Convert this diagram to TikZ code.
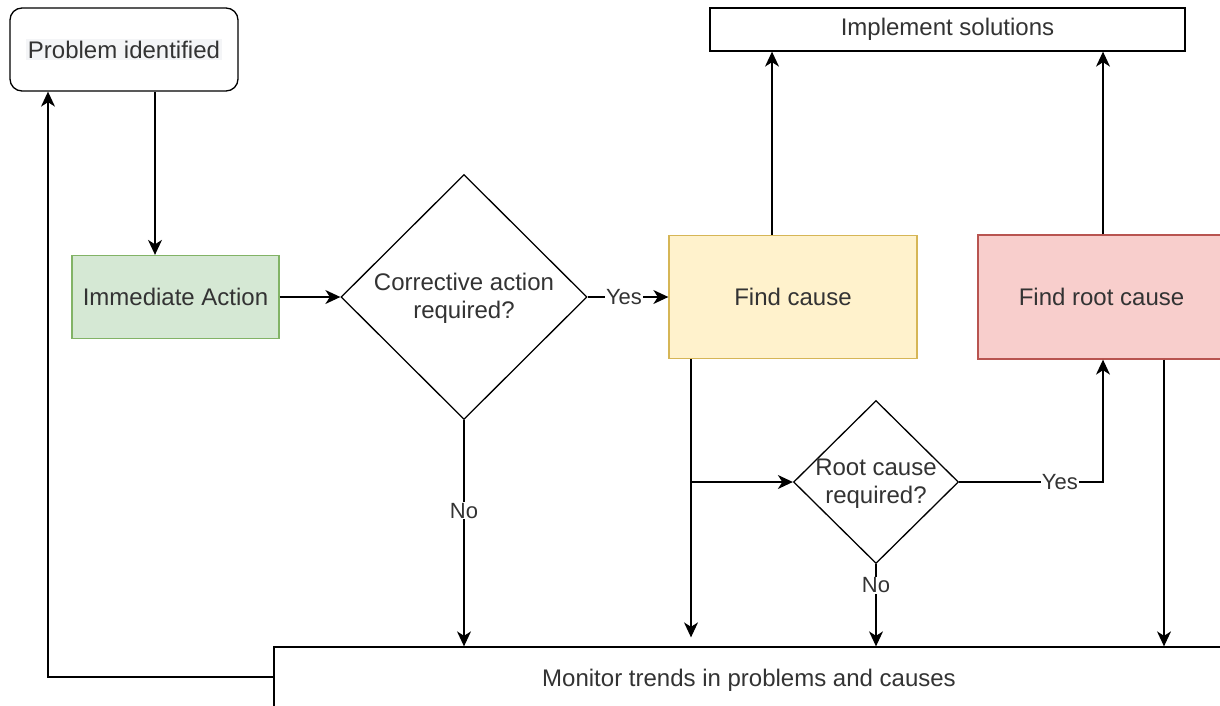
\documentclass[tikz,border=0pt]{standalone}
\usepackage{fontspec}
\setmainfont{Liberation Sans}
\usetikzlibrary{shapes.geometric,arrows.meta}
\definecolor{txt}{HTML}{333333}
\definecolor{hl}{HTML}{F4F5F7}
\definecolor{greenfill}{HTML}{D5E8D4}
\definecolor{greenline}{HTML}{82B366}
\definecolor{yellowfill}{HTML}{FFF2CC}
\definecolor{yellowline}{HTML}{D6B656}
\definecolor{redfill}{HTML}{F8CECC}
\definecolor{redline}{HTML}{B85450}
\begin{document}
\begin{tikzpicture}[x=1pt,y=-1pt,
  box/.style={draw=black, line width=1.3pt, rectangle, text=txt,
    font=\fontsize{24}{28.8}\selectfont, align=center, inner sep=0pt},
  dia/.style={draw=black, line width=1.3pt, diamond, inner sep=0pt},
  diatext/.style={text=txt, font=\fontsize{24}{28.2}\selectfont, align=center, inner sep=0pt},
  arr/.style={line width=1.3pt, -{Stealth[length=15pt,width=14pt,inset=4.5pt]}},
  lbl/.style={fill=white, text=txt, font=\fontsize{22}{26}\selectfont, inner sep=1pt}]

\useasboundingbox (0,0) rectangle (1220,705);
\fill[white] (0,0) rectangle (1220,705);
\clip (0,0) rectangle (1220,705);

% process steps
\node[box, rounded corners=12pt, minimum width=228pt, minimum height=83pt] (prob) at (124,49.5)
  {\setlength\fboxsep{2pt}\colorbox{hl}{Problem identified}};
\node[box, fill=greenfill, draw=greenline, minimum width=207pt, minimum height=83pt] (imm) at (175.5,297)
  {Immediate Action};
\node[dia, minimum width=246pt, minimum height=245pt] (d1) at (464,297) {};
\node[diatext] (d1t) at (464,298) {Corrective action\\required?};
\node[box, fill=yellowfill, draw=yellowline, minimum width=248pt, minimum height=123pt] (fc) at (793,297)
  {Find cause};
\node[box, fill=redfill, draw=redline, minimum width=247pt, minimum height=124pt] (frc) at (1101.5,297)
  {Find root cause};
\node[box, minimum width=475pt, minimum height=43pt] (impl) at (947.5,29.5)
  {Implement solutions};
\node[dia, minimum width=165pt, minimum height=163pt] (d2) at (876,482) {};
\node[diatext] (d2t) at (876,484) {Root cause\\required?};
\node[box, minimum width=950pt, minimum height=66pt] (mon) at (749,680)
  {Monitor trends in problems and causes};

% connectors
\draw[arr] ([xshift=31pt]prob.south) -- ([xshift=31pt]prob.south |- imm.north);
\draw[arr] (imm.east) -- (imm.east -| d1.west);
\draw[arr] (d1.east) -- node[lbl, pos=0.45] {Yes} (d1.east -| fc.west);
\draw[arr] (d1.south) -- node[lbl, pos=0.40] {No} (d1.south |- mon.north);
\draw[arr] ([xshift=-21pt]fc.north) -- ([xshift=-21pt]fc.north |- impl.south);
\draw[arr] ([xshift=1.5pt]frc.north) -- ([xshift=1.5pt]frc.north |- impl.south);
\coordinate (fcdown) at ([xshift=-102pt]fc.south);
\coordinate (split) at (fcdown |- d2.west);
\draw[arr] (fcdown) -- ([yshift=9pt]fcdown |- mon.north);
\draw[arr] (split) -- (d2.west);
\coordinate (frcin) at ([xshift=1.5pt]frc.south);
\draw[arr] (d2.east) -- node[lbl, pos=0.7] {Yes} (d2.east -| frcin) -- (frcin);
\draw[arr] (d2.south) -- node[lbl, pos=0.26] {No} (d2.south |- mon.north);
\coordinate (frcout) at ([xshift=62.5pt]frc.south);
\draw[arr] (frcout) -- (frcout |- mon.north);
\coordinate (monout) at ([yshift=3pt]mon.west);
\coordinate (probin) at ([xshift=-76pt]prob.south);
\draw[arr] (monout) -| (probin);
\end{tikzpicture}
\end{document}
